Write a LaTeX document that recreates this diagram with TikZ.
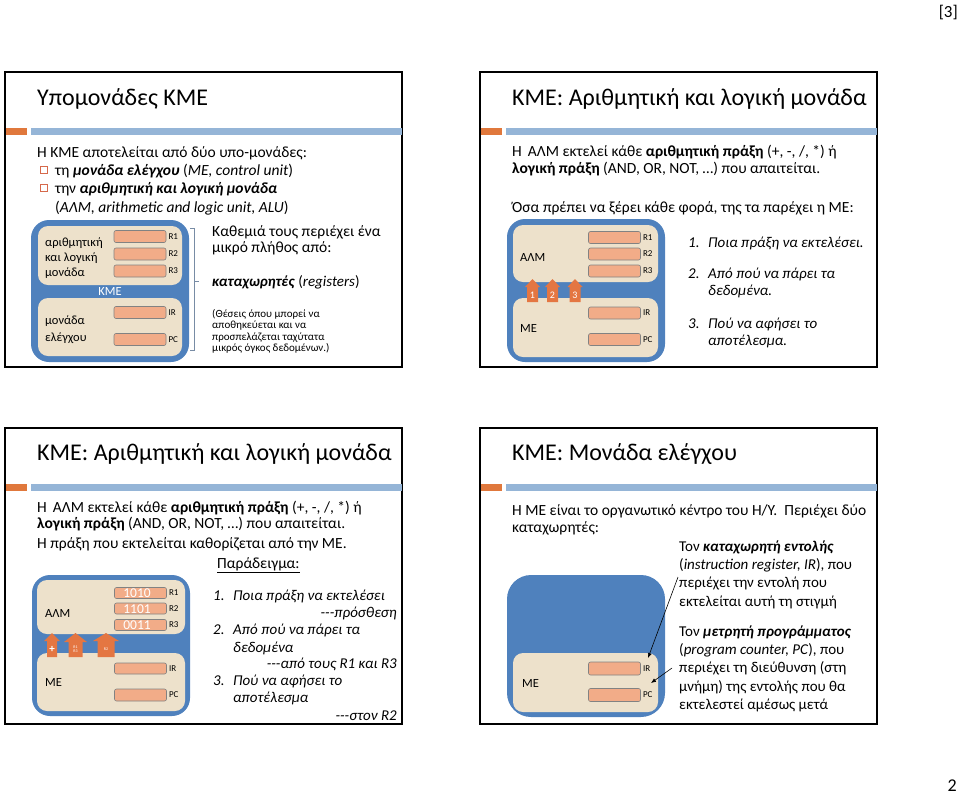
\documentclass[tikz,border=0pt]{standalone}
\usepackage{fontspec}
\setmainfont{Carlito}
\usetikzlibrary{arrows.meta}
\definecolor{kblue}{RGB}{79,129,189}
\definecolor{kbeige}{RGB}{237,225,203}
\definecolor{ksalmon}{RGB}{242,172,136}
\definecolor{kregline}{RGB}{130,130,130}
\definecolor{korange}{RGB}{228,118,66}
\definecolor{kbarorange}{RGB}{224,120,60}
\definecolor{kbarblue}{RGB}{149,181,215}
\definecolor{kbullet}{RGB}{214,105,75}
\definecolor{kbrace}{RGB}{120,140,165}
\newcommand\kArrowUp[6]{%
\fill[korange] ({#1-#6},#4) -- ({#1-#6},#3) -- ({#1-#5},#3) -- (#1,#2) -- ({#1+#5},#3) -- ({#1+#6},#3) -- ({#1+#6},#4) -- cycle;}
\newcommand\kdashes{{-}{-}{-}}
\begin{document}
\begin{tikzpicture}[x=1pt,y=-1pt,
  slideframe/.style={draw=black,line width=1.3pt},
  bluebox/.style={fill=kblue,rounded corners=18pt},
  beigebox/.style={fill=kbeige,rounded corners=10pt},
  regbox/.style={fill=ksalmon,draw=kregline,line width=0.6pt,rounded corners=2pt,minimum width=52pt,minimum height=12pt,inner sep=0pt},
  reglab/.style={anchor=west,inner sep=0pt,font=\fontsize{9}{10}\selectfont},
  regval/.style={text=white,inner sep=0pt,font=\fontsize{13.5}{13.5}\selectfont},
  ttl/.style={anchor=base west,inner sep=0pt,font=\fontsize{24}{27}\selectfont},
  btxt/.style={anchor=base west,inner sep=0pt,font=\fontsize{15.5}{17}\selectfont},
  ltxt/.style={anchor=base west,inner sep=0pt,font=\fontsize{15}{17}\selectfont\itshape},
  ltxtr/.style={anchor=base east,inner sep=0pt,font=\fontsize{15}{17}\selectfont\itshape},
  rtxt/.style={anchor=base west,inner sep=0pt,font=\fontsize{15}{17}\selectfont},
  stxt/.style={anchor=base west,inner sep=0pt,font=\fontsize{11}{12}\selectfont},
  dtxt/.style={anchor=base west,inner sep=0pt,font=\fontsize{12.5}{14}\selectfont},
  arrlab/.style={text=white,inner sep=0pt,font=\fontsize{10}{10}\selectfont},
  ptr/.style={draw=black,line width=0.6pt,-{Latex[length=5pt,width=4pt]}}]
\useasboundingbox (0,0) rectangle (960,796);

% page marks
\node[anchor=base east,inner sep=0pt,font=\fontsize{17}{19}\selectfont] (pgA) at (958,17) {[3]};
\node[anchor=base east,inner sep=0pt,font=\fontsize{18}{20}\selectfont] (pgB) at (957,791) {2};

% ================= slide 1 =================
\draw[slideframe] (5,72) rectangle (402,367);
\node[ttl] (s1title) at (37,105) {Υπομονάδες ΚΜΕ};
\fill[kbarorange] (6,128) rectangle (27,135);
\fill[kbarblue] (31,128) rectangle (402,135);
\node[btxt] (s1l1) at (37,157) {Η ΚΜΕ αποτελείται από δύο υπο-μονάδες:};
\draw[kbullet,line width=0.8pt] (40,166.5) rectangle (47,173.5);
\node[btxt] (s1l2) at (55,175) {τη \textbf{\textit{μονάδα ελέγχου}} (\textit{ΜΕ, control unit})};
\draw[kbullet,line width=0.8pt] (40,184.5) rectangle (47,191.5);
\node[btxt] (s1l3) at (55,193) {την \textbf{\textit{αριθμητική και λογική μονάδα}}};
\node[btxt] (s1l4) at (55,212) {(\textit{ΑΛΜ, arithmetic and logic unit, ALU})};

\fill[bluebox] (31,220) rectangle (189,362);
\fill[beigebox] (38,226) rectangle (182,285);
\fill[beigebox] (38,298) rectangle (182,356);
\node[regbox] (s1r1) at (140,236.5) {};
\node[regbox] (s1r2) at (140,254) {};
\node[regbox] (s1r3) at (140,271) {};
\node[regbox] (s1ir) at (140,312.5) {};
\node[regbox] (s1pc) at (140,339.5) {};
\node[reglab] (s1r1l) at ([xshift=2pt]s1r1.east) {R1};
\node[reglab] (s1r2l) at ([xshift=2pt]s1r2.east) {R2};
\node[reglab] (s1r3l) at ([xshift=2pt]s1r3.east) {R3};
\node[reglab] (s1irl) at ([xshift=2pt]s1ir.east) {IR};
\node[reglab] (s1pcl) at ([xshift=2pt]s1pc.east) {PC};
\node[dtxt] (s1a1) at (45,246) {αριθμητική};
\node[dtxt] (s1a2) at (45,261) {και λογική};
\node[dtxt] (s1a3) at (45,276) {μονάδα};
\node[dtxt] (s1m1) at (45,324) {μονάδα};
\node[dtxt] (s1m2) at (45,341) {ελέγχου};
\node[text=white,inner sep=0pt,font=\fontsize{12.5}{13}\selectfont] (s1kme) at (110,291.5) {ΚΜΕ};

\draw[kbrace,line width=0.8pt] (190,228) -- (194,228) -- (194,350) -- (190,350);
\draw[kbrace,line width=0.8pt] (194,281) -- (199,281);
\node[btxt] (s1c1) at (212,236) {Καθεμιά τους περιέχει ένα};
\node[btxt] (s1c2) at (212,252) {μικρό πλήθος από:};
\node[rtxt] (s1c3) at (212,286) {\textbf{\textit{καταχωρητές}} (\textit{registers})};
\node[stxt] (s1c4) at (212,317) {(Θέσεις όπου μπορεί να};
\node[stxt] (s1c5) at (212,328.5) {αποθηκεύεται και να};
\node[stxt] (s1c6) at (212,340) {προσπελάζεται ταχύτατα};
\node[stxt] (s1c7) at (212,351.5) {μικρός όγκος δεδομένων.)};

% ================= slide 2 =================
\draw[slideframe] (480,72) rectangle (877,367);
\node[ttl] (s2title) at (512,105) {ΚΜΕ: Αριθμητική και λογική μονάδα};
\fill[kbarorange] (481,128) rectangle (502,135);
\fill[kbarblue] (506,128) rectangle (877,135);
\node[btxt] (s2l1) at (512,156) {Η\, ΑΛΜ εκτελεί κάθε \textbf{αριθμητική πράξη} (+, -, /, *) ή};
\node[btxt] (s2l2) at (512,173) {\textbf{λογική πράξη} (AND, OR, NOT, …) που απαιτείται.};
\node[btxt] (s2l3) at (512,212) {Όσα πρέπει να ξέρει κάθε φορά, της τα παρέχει η ΜΕ:};

\fill[bluebox] (507,219) rectangle (665,362);
\fill[beigebox] (513,225) rectangle (658,282);
\fill[beigebox] (513,298) rectangle (658,357);
\node[regbox] (s2r1) at (614.5,237.5) {};
\node[regbox] (s2r2) at (614.5,254) {};
\node[regbox] (s2r3) at (614.5,271) {};
\node[regbox] (s2ir) at (614.5,313) {};
\node[regbox] (s2pc) at (614.5,339.5) {};
\node[reglab] (s2r1l) at ([xshift=2pt]s2r1.east) {R1};
\node[reglab] (s2r2l) at ([xshift=2pt]s2r2.east) {R2};
\node[reglab] (s2r3l) at ([xshift=2pt]s2r3.east) {R3};
\node[reglab] (s2irl) at ([xshift=2pt]s2ir.east) {IR};
\node[reglab] (s2pcl) at ([xshift=2pt]s2pc.east) {PC};
\node[dtxt] (s2alm) at (520,261) {ΑΛΜ};
\node[dtxt] (s2me) at (520,332) {ΜΕ};
\kArrowUp{532.5}{279}{287}{302}{7.5}{5.5}
\kArrowUp{552.5}{279}{287}{302}{7.5}{5.5}
\kArrowUp{575}{279}{287}{302}{7.5}{5.5}
\node[arrlab] (s2n1) at (532.5,295) {1};
\node[arrlab] (s2n2) at (552.5,295) {2};
\node[arrlab] (s2n3) at (575,295) {3};

\node[ltxt] (s2i1n) at (688,247) {1.};
\node[ltxt] (s2i1) at (708,247) {Ποια πράξη να εκτελέσει.};
\node[ltxt] (s2i2n) at (688,278) {2.};
\node[ltxt] (s2i2) at (708,278) {Από πού να πάρει τα};
\node[ltxt] (s2i2b) at (708,295) {δεδομένα.};
\node[ltxt] (s2i3n) at (688,328) {3.};
\node[ltxt] (s2i3) at (708,328) {Πού να αφήσει το};
\node[ltxt] (s2i3b) at (708,345) {αποτέλεσμα.};

% ================= slide 3 =================
\draw[slideframe] (5,428) rectangle (402,724);
\node[ttl] (s3title) at (37,460) {ΚΜΕ: Αριθμητική και λογική μονάδα};
\fill[kbarorange] (6,484) rectangle (27,491);
\fill[kbarblue] (31,484) rectangle (402,491);
\node[btxt] (s3l1) at (37,512) {Η\, ΑΛΜ εκτελεί κάθε \textbf{αριθμητική πράξη} (+, -, /, *) ή};
\node[btxt] (s3l2) at (37,528) {\textbf{λογική πράξη} (AND, OR, NOT, …) που απαιτείται.};
\node[btxt] (s3l3) at (37,548) {Η πράξη που εκτελείται καθορίζεται από την ΜΕ.};
\node[btxt] (s3ex) at (217,568) {\underline{Παράδειγμα:}};

\fill[bluebox] (32,575) rectangle (190,716);
\fill[beigebox] (37,580) rectangle (185,634);
\fill[beigebox] (37,653) rectangle (185,711);
\node[regbox,minimum height=11pt] (s3r1) at (140.5,593) {};
\node[regbox,minimum height=11pt] (s3r2) at (140.5,608.5) {};
\node[regbox,minimum height=11pt] (s3r3) at (140.5,625) {};
\node[regbox,minimum height=11pt] (s3ir) at (140.5,668.5) {};
\node[regbox,minimum height=12pt] (s3pc) at (140.5,695) {};
\node[regval] (s3v1) at (137,593.5) {1010};
\node[regval] (s3v2) at (137,609) {1101};
\node[regval] (s3v3) at (137,625.5) {0011};
\node[reglab] (s3r1l) at ([xshift=2pt]s3r1.east) {R1};
\node[reglab] (s3r2l) at ([xshift=2pt]s3r2.east) {R2};
\node[reglab] (s3r3l) at ([xshift=2pt]s3r3.east) {R3};
\node[reglab] (s3irl) at ([xshift=2pt]s3ir.east) {IR};
\node[reglab] (s3pcl) at ([xshift=2pt]s3pc.east) {PC};
\node[dtxt] (s3alm) at (45,617) {ΑΛΜ};
\node[dtxt] (s3me) at (45,686) {ΜΕ};
\kArrowUp{52}{633}{641}{657}{8}{5}
\kArrowUp{75.5}{633}{642}{657}{11.5}{7}
\kArrowUp{106}{633}{641}{657}{13}{8.5}
\node[text=white,inner sep=0pt,font=\fontsize{11}{11}\selectfont\bfseries] (s3p) at (52,649) {+};
\node[text=white,inner sep=0pt,align=center,font=\fontsize{4}{4.5}\selectfont] (s3q) at (75.5,649) {R1\\R3};
\node[text=white,inner sep=0pt,font=\fontsize{4}{4.5}\selectfont] (s3s) at (106,649) {R2};

\node[ltxt] (s3i1n) at (213,600) {1.};
\node[ltxt] (s3i1) at (233,600) {Ποια πράξη να εκτελέσει};
\node[ltxtr] (s3i1b) at (397,617) {\kdashes πρόσθεση};
\node[ltxt] (s3i2n) at (213,634) {2.};
\node[ltxt] (s3i2) at (233,634) {Από πού να πάρει τα};
\node[ltxt] (s3i2b) at (233,652) {δεδομένα};
\node[ltxtr] (s3i2c) at (397,668) {\kdashes από τους R1 και R3};
\node[ltxt] (s3i3n) at (213,685) {3.};
\node[ltxt] (s3i3) at (233,685) {Πού να αφήσει το};
\node[ltxt] (s3i3b) at (233,702) {αποτέλεσμα};
\node[ltxtr] (s3i3c) at (397,720) {\kdashes στον R2};

% ================= slide 4 =================
\draw[slideframe] (480,428) rectangle (877,724);
\node[ttl] (s4title) at (512,460) {ΚΜΕ: Μονάδα ελέγχου};
\fill[kbarorange] (481,484) rectangle (502,491);
\fill[kbarblue] (506,484) rectangle (877,491);
\node[btxt] (s4l1) at (512,515) {Η ΜΕ είναι το οργανωτικό κέντρο του Η/Υ.\ \ Περιέχει δύο};
\node[btxt] (s4l2) at (512,532) {καταχωρητές:};

\fill[kblue,rounded corners=24pt] (507,575) rectangle (665,717);
\fill[beigebox] (513,653) rectangle (658,712);
\node[regbox,minimum height=13pt] (s4ir) at (614.5,668.5) {};
\node[regbox,minimum height=13pt] (s4pc) at (614.5,695) {};
\node[reglab] (s4irl) at ([xshift=2pt]s4ir.east) {IR};
\node[reglab] (s4pcl) at ([xshift=2pt]s4pc.east) {PC};
\node[dtxt] (s4me) at (522,687) {ΜΕ};

\node[rtxt] (s4t1) at (679,551) {Τον \textbf{\textit{καταχωρητή εντολής}}};
\node[rtxt] (s4t2) at (679,569) {(\textit{instruction register, IR}), που};
\node[rtxt] (s4t3) at (679,587) {περιέχει την εντολή που};
\node[rtxt] (s4t4) at (679,606) {εκτελείται αυτή τη στιγμή};
\node[rtxt] (s4t5) at (679,636) {Τον \textbf{\textit{μετρητή προγράμματος}}};
\node[rtxt] (s4t6) at (679,654) {(\textit{program counter, PC}), που};
\node[rtxt] (s4t7) at (679,672) {περιέχει τη διεύθυνση (στη};
\node[rtxt] (s4t8) at (679,691) {μνήμη) της εντολής που θα};
\node[rtxt] (s4t9) at (679,709) {εκτελεστεί αμέσως μετά};
\coordinate (s4a1s) at (678,577);
\coordinate (s4a1e) at (648,658);
\coordinate (s4a2s) at (672,668);
\coordinate (s4a2e) at (651,683);
\draw[ptr] (s4a1s) -- (s4a1e);
\draw[ptr] (s4a2s) -- (s4a2e);
\end{tikzpicture}
\end{document}
